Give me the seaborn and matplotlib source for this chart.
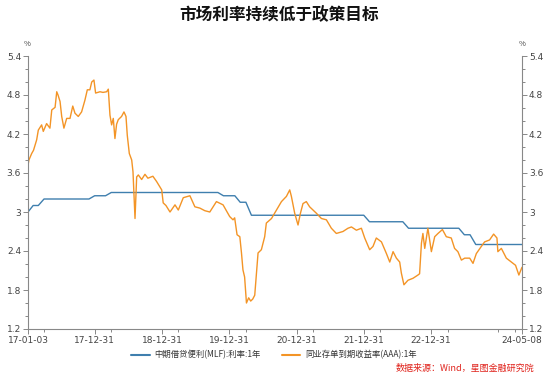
import matplotlib
matplotlib.use("Agg")
import matplotlib.pyplot as plt
import matplotlib.dates as mdates
import seaborn as sns
import pandas as pd

# ---- data -------------------------------------------------------------
ncd_dates = [
    "2017-01-03", "2017-01-08", "2017-01-23", "2017-02-02", "2017-02-19", "2017-02-28",
    "2017-03-18", "2017-03-27", "2017-04-14", "2017-05-02", "2017-05-12", "2017-05-30",
    "2017-06-08", "2017-06-15", "2017-06-26", "2017-07-05", "2017-07-17", "2017-08-01",
    "2017-08-19", "2017-09-03", "2017-09-15", "2017-10-03", "2017-10-21", "2017-11-08",
    "2017-11-21", "2017-12-05", "2017-12-15", "2017-12-27", "2018-01-05", "2018-01-29",
    "2018-02-14", "2018-03-06", "2018-03-15", "2018-03-24", "2018-04-02", "2018-04-11",
    "2018-04-20", "2018-04-29", "2018-05-08", "2018-05-26", "2018-06-08", "2018-06-19",
    "2018-06-26", "2018-07-07", "2018-07-20", "2018-07-27", "2018-08-07", "2018-08-16",
    "2018-08-25", "2018-09-12", "2018-09-30", "2018-10-16", "2018-11-12", "2018-12-02",
    "2018-12-30", "2019-01-07", "2019-01-22", "2019-02-13", "2019-03-12", "2019-03-30",
    "2019-04-26", "2019-06-01", "2019-06-28", "2019-07-25", "2019-08-21", "2019-09-17",
    "2019-10-23", "2019-11-28", "2020-01-03", "2020-01-21", "2020-01-30", "2020-02-12",
    "2020-02-27", "2020-03-07", "2020-03-15", "2020-03-24", "2020-04-03", "2020-04-15",
    "2020-04-26", "2020-05-07", "2020-05-18", "2020-06-05", "2020-06-23", "2020-07-11",
    "2020-07-20", "2020-08-17", "2020-09-13", "2020-10-10", "2020-11-06", "2020-11-24",
    "2020-12-03", "2020-12-21", "2021-01-08", "2021-01-21", "2021-02-04", "2021-02-22",
    "2021-03-12", "2021-04-18", "2021-05-15", "2021-06-11", "2021-07-08", "2021-08-04",
    "2021-09-09", "2021-10-06", "2021-10-25", "2021-11-21", "2021-12-18", "2022-01-05",
    "2022-02-01", "2022-02-19", "2022-03-09", "2022-04-06", "2022-05-03", "2022-05-21",
    "2022-06-08", "2022-06-26", "2022-07-14", "2022-07-23", "2022-08-06", "2022-08-28",
    "2022-09-24", "2022-10-21", "2022-10-30", "2022-11-09", "2022-11-17", "2022-11-27",
    "2022-12-14", "2023-01-02", "2023-01-20", "2023-02-07", "2023-03-03", "2023-03-24",
    "2023-04-20", "2023-05-08", "2023-05-26", "2023-06-14", "2023-07-02", "2023-07-29",
    "2023-08-16", "2023-09-03", "2023-09-30", "2023-10-18", "2023-11-14", "2023-12-06",
    "2023-12-24", "2023-12-29", "2024-01-17", "2024-02-13", "2024-03-11", "2024-04-03",
    "2024-04-21", "2024-05-08",
]
ncd_values = [
    3.72, 3.80, 3.90, 3.95, 4.11, 4.26,
    4.34, 4.24, 4.36, 4.29, 4.57, 4.61,
    4.85, 4.80, 4.70, 4.47, 4.29, 4.44,
    4.44, 4.63, 4.52, 4.47, 4.54, 4.72,
    4.88, 4.88, 5.00, 5.03, 4.83, 4.85,
    4.84, 4.85, 4.89, 4.49, 4.34, 4.44,
    4.13, 4.35, 4.42, 4.47, 4.54, 4.47,
    4.18, 3.90, 3.80, 3.62, 2.90, 3.54,
    3.57, 3.50, 3.58, 3.52, 3.55, 3.47,
    3.34, 3.14, 3.10, 3.00, 3.11, 3.03,
    3.22, 3.25, 3.08, 3.06, 3.02, 3.00,
    3.16, 3.11, 2.93, 2.88, 2.91, 2.65,
    2.62, 2.37, 2.11, 2.00, 1.60, 1.68,
    1.63, 1.66, 1.72, 2.37, 2.42, 2.62,
    2.83, 2.90, 3.03, 3.16, 3.24, 3.34,
    3.24, 2.98, 2.80, 2.98, 3.13, 3.16,
    3.08, 2.98, 2.90, 2.88, 2.75, 2.67,
    2.70, 2.75, 2.77, 2.72, 2.75, 2.60,
    2.42, 2.47, 2.60, 2.54, 2.36, 2.23,
    2.39, 2.29, 2.23, 2.06, 1.88, 1.95,
    1.98, 2.03, 2.05, 2.52, 2.67, 2.44,
    2.75, 2.39, 2.62, 2.67, 2.73, 2.62,
    2.60, 2.44, 2.39, 2.26, 2.29, 2.29,
    2.21, 2.36, 2.47, 2.54, 2.57, 2.66,
    2.60, 2.39, 2.44, 2.29, 2.23, 2.18,
    2.03, 2.15,
]

mlf_dates = [
    "2017-01-03", "2017-01-31", "2017-02-28", "2017-03-31", "2017-11-30", "2017-12-31",
    "2018-02-28", "2018-03-31", "2019-10-31", "2019-11-30", "2020-01-31", "2020-02-29",
    "2020-03-31", "2020-04-30", "2021-12-31", "2022-01-31", "2022-07-31", "2022-08-31",
    "2023-05-31", "2023-06-30", "2023-07-31", "2023-08-31", "2024-05-08",
]
mlf_values = [
    3.00, 3.10, 3.10, 3.20, 3.20, 3.25,
    3.25, 3.30, 3.30, 3.25, 3.25, 3.15,
    3.15, 2.95, 2.95, 2.85, 2.85, 2.75,
    2.75, 2.65, 2.65, 2.50, 2.50,
]

series_names = ["中期借贷便利(MLF):利率:1年", "同业存单到期收益率(AAA):1年"]
x_labels = ["17-01-03", "17-12-31", "18-12-31", "19-12-31", "20-12-31",
            "21-12-31", "22-12-31", "24-05-08"]
y_ticks = [1.2, 1.8, 2.4, 3.0, 3.6, 4.2, 4.8, 5.4]
title = "市场利率持续低于政策目标"
source = "数据来源：Wind，星图金融研究院"

# ---- build frame -------------------------------------------------------
df = pd.concat([
    pd.DataFrame({"date": pd.to_datetime(mlf_dates), "value": mlf_values,
                  "series": series_names[0]}),
    pd.DataFrame({"date": pd.to_datetime(ncd_dates), "value": ncd_values,
                  "series": series_names[1]}),
], ignore_index=True)

sns.set_theme(style="white")
plt.rcParams["font.family"] = ["Noto Sans CJK SC", "DejaVu Sans"]

fig = plt.figure(figsize=(5.48, 3.77), dpi=100)
ax = fig.add_axes([28 / 548, 1 - 329 / 377, (522 - 28) / 548, (329 - 56) / 377])

palette = {series_names[0]: "#3f7fae", series_names[1]: "#f39426"}
sns.lineplot(data=df, x="date", y="value", hue="series", palette=palette,
             linewidth=1.0, ax=ax, legend=True)

ax.set_ylim(1.2, 5.4)
ax.set_xlim(pd.Timestamp("2017-01-03"), pd.Timestamp("2024-05-08"))
ax.set_xlabel("")
ax.set_ylabel("")

ax.set_yticks(y_ticks)
ax.set_yticklabels([("%g" % v) for v in y_ticks])
ax.yaxis.set_minor_locator(matplotlib.ticker.MultipleLocator(0.2))

x_tick_dates = [pd.Timestamp("20" + s) for s in x_labels]
ax.set_xticks(x_tick_dates)
ax.set_xticklabels(x_labels)
ax.xaxis.set_minor_locator(mdates.MonthLocator(bymonth=[3, 6, 9, 12], bymonthday=31))

for side in ["left", "right", "bottom"]:
    ax.spines[side].set_visible(True)
    ax.spines[side].set_color("#888888")
    ax.spines[side].set_linewidth(0.8)
ax.spines["top"].set_visible(False)

ax.tick_params(axis="both", which="both", direction="out", colors="#888888",
               labelcolor="#444444", labelsize=6.5, width=0.7)
ax.tick_params(axis="y", which="both", left=True, right=True, labelleft=True,
               labelright=True, pad=1.5)
ax.tick_params(axis="both", which="major", length=3.5)
ax.tick_params(axis="both", which="minor", length=2.5)
ax.tick_params(axis="x", which="both", bottom=True, pad=1.5)
for lbl in ax.get_xticklabels() + ax.get_yticklabels():
    lbl.set_family(["DejaVu Sans"])

fig.text(27 / 548, 1 - 44 / 377, "%", fontsize=5.5, color="#444444",
         ha="center", va="center")
fig.text(522 / 548, 1 - 44 / 377, "%", fontsize=5.5, color="#444444",
         ha="center", va="center")

fig.text(0.51, 1 - 15 / 377, title, fontsize=12, fontweight="bold",
         ha="center", va="center", color="#111111")

leg = ax.legend(loc="center", bbox_to_anchor=(0.5, 22 / 377),
                bbox_transform=fig.transFigure, ncol=2, frameon=False,
                fontsize=6, handlelength=2.2, columnspacing=2.5,
                handletextpad=0.6)
for t in leg.get_texts():
    t.set_color("#333333")
for h in leg.get_lines():
    h.set_linewidth(1.5)

fig.text(0.975, 9 / 377, source, fontsize=6.5, color="#e0231c", ha="right",
         va="center", style="italic")

fig.savefig("out.png", dpi=100)
